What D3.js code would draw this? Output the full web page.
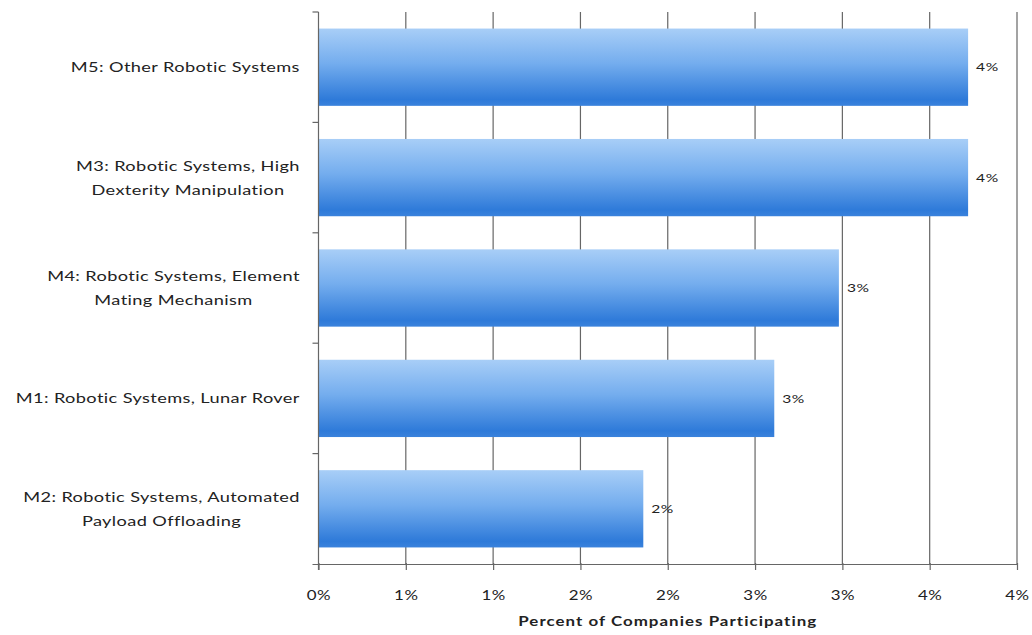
<!DOCTYPE html>
<html>
<head>
<meta charset="utf-8">
<script src="https://cdn.jsdelivr.net/npm/d3@7"></script>
<style>
  html, body { margin: 0; padding: 0; background: #fff; }
  svg { display: block; }
  text { font-family: Lato, "Open Sans", "Liberation Sans", sans-serif; fill: #222; }
</style>
</head>
<body>
<svg id="chart" width="1032" height="635"></svg>
<script>
// Data (top to bottom)
const categories = [
  ["M5: Other Robotic Systems"],
  ["M3: Robotic Systems, High", "Dexterity Manipulation"],
  ["M4: Robotic Systems, Element", "Mating Mechanism"],
  ["M1: Robotic Systems, Lunar Rover"],
  ["M2: Robotic Systems, Automated", "Payload Offloading"]
];
const values = [0.0372, 0.0372, 0.0298, 0.0261, 0.0186];
const tickValues = [0, 0.005, 0.01, 0.015, 0.02, 0.025, 0.03, 0.035, 0.04];
const axisTitle = "Percent of Companies Participating";

const svg = d3.select("#chart");
const plotLeft = 318.5, plotRight = 1017, plotTop = 12, plotBottom = 564;
const sx = 1.3; // horizontal stretch of the reference's text

const x = d3.scaleLinear().domain([0, 0.04]).range([plotLeft, plotRight]);
const y = d3.scaleBand().domain(d3.range(categories.length)).range([plotTop, plotBottom])
  .paddingInner(0.3).paddingOuter(0.15);

const defs = svg.append("defs");
const grad = defs.append("linearGradient").attr("id", "barGrad")
  .attr("x1", 0).attr("y1", 0).attr("x2", 0).attr("y2", 1);
grad.append("stop").attr("offset", "0%").attr("stop-color", "#a8cef7");
grad.append("stop").attr("offset", "45%").attr("stop-color", "#74adee");
grad.append("stop").attr("offset", "92%").attr("stop-color", "#2e7ad9");
grad.append("stop").attr("offset", "100%").attr("stop-color", "#3a82dc");

// gridlines
svg.append("g").selectAll("line").data(tickValues.slice(1)).join("line")
  .attr("x1", d => x(d)).attr("x2", d => x(d))
  .attr("y1", plotTop).attr("y2", plotBottom)
  .attr("stroke", "#666").attr("stroke-width", 1.2);

// bars
svg.append("g").selectAll("rect").data(values).join("rect")
  .attr("x", x(0))
  .attr("y", (d, i) => y(i))
  .attr("width", d => x(d) - x(0))
  .attr("height", y.bandwidth())
  .attr("fill", "url(#barGrad)");

// value labels
svg.append("g").selectAll("text").data(values).join("text")
  .attr("transform", (d, i) => `translate(${x(d) + 8},${y(i) + y.bandwidth() / 2}) scale(${sx},1)`)
  .attr("dy", "0.35em")
  .attr("font-size", 12)
  .attr("letter-spacing", 0.4)
  .text(d => d3.format(".0%")(d));

// x axis
const xAxis = d3.axisBottom(x).tickValues(tickValues).tickSize(6).tickSizeOuter(0)
  .tickFormat(d3.format(".0%"));
const gx = svg.append("g").attr("transform", `translate(0,${plotBottom})`).call(xAxis);
gx.select(".domain").attr("stroke", "#666").attr("stroke-width", 1.2)
  .attr("d", `M${plotLeft - 6},0.5H${plotRight}`);
gx.selectAll(".tick line").attr("stroke", "#666").attr("stroke-width", 1.2).attr("y1", -1);
gx.selectAll(".tick text").attr("font-size", 13).attr("y", 36).attr("dy", 0)
  .attr("letter-spacing", 0.4)
  .attr("transform", `scale(${sx},1)`)
  .style("font-family", "Lato, 'Open Sans', sans-serif").attr("fill", "#222");

// y axis (line with ticks at band boundaries)
const bounds = d3.range(categories.length + 1).map(i => plotTop + i * (plotBottom - plotTop) / categories.length);
svg.append("line").attr("x1", plotLeft).attr("x2", plotLeft).attr("y1", plotTop).attr("y2", plotBottom + 6)
  .attr("stroke", "#666").attr("stroke-width", 1.2);
svg.append("g").selectAll("line").data(bounds.slice(0, -1)).join("line")
  .attr("x1", plotLeft - 6).attr("x2", plotLeft).attr("y1", d => d).attr("y2", d => d)
  .attr("stroke", "#666").attr("stroke-width", 1.2);

// category labels: block right-aligned, lines centered
const labelRight = 300, lineH = 24;
categories.forEach((lines, i) => {
  const cy = y(i) + y.bandwidth() / 2;
  const g = svg.append("g");
  const texts = lines.map((ln, k) => g.append("text")
    .attr("font-size", 14)
    .attr("letter-spacing", 0.3)
    .attr("text-anchor", "middle")
    .attr("dy", "0.35em")
    .text(ln));
  const maxW = d3.max(texts, t => t.node().getComputedTextLength()) * sx;
  texts.forEach((t, k) => t.attr("transform",
    `translate(${labelRight - maxW / 2},${cy + (k - (lines.length - 1) / 2) * lineH}) scale(${sx},1)`));
});

// axis title
svg.append("text")
  .attr("transform", `translate(${(plotLeft + plotRight) / 2},626) scale(${sx},1)`)
  .attr("text-anchor", "middle").attr("font-size", 13).attr("font-weight", "bold")
  .attr("letter-spacing", 0.8)
  .text(axisTitle);
</script>
</body>
</html>
